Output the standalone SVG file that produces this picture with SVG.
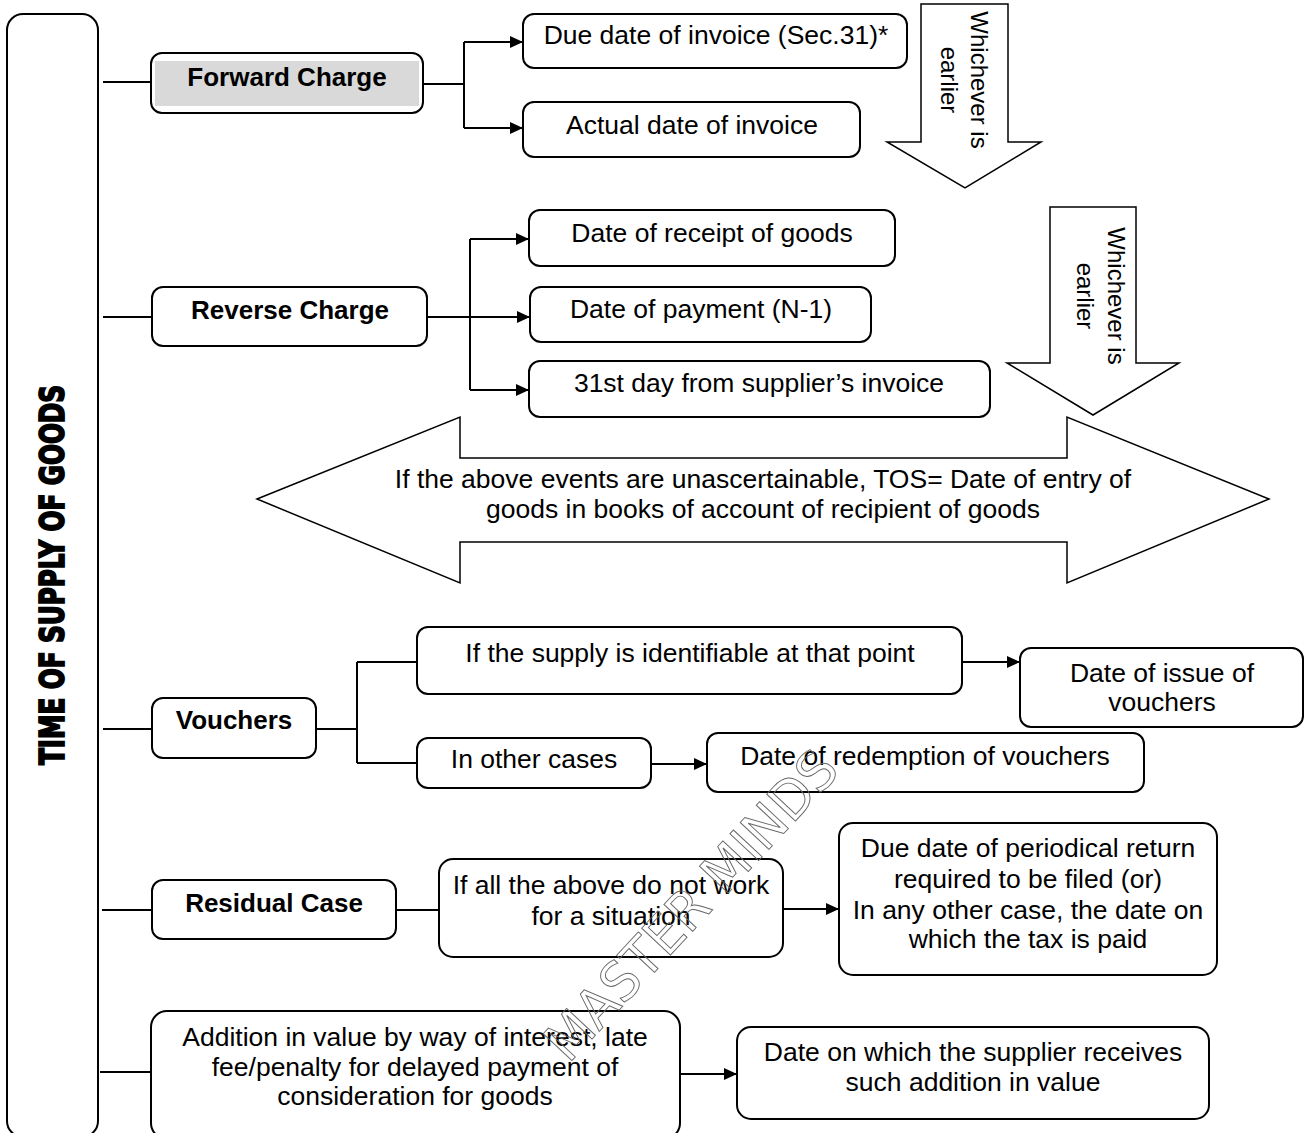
<svg xmlns="http://www.w3.org/2000/svg" width="1309" height="1133" viewBox="0 0 1309 1133">
<style>
.box{fill:#fff;stroke:#000;stroke-width:2}
.shape{fill:#fff;stroke:#000;stroke-width:1.5}
.ln{fill:none;stroke:#000;stroke-width:2}
.t{font-family:"Liberation Sans",Arial,sans-serif;font-size:26.5px;text-anchor:middle;fill:#000}
.b{font-weight:bold;font-size:26px}
.r{font-size:24px}
.title{font-family:"Liberation Sans Narrow","DejaVu Sans Condensed","Liberation Sans",sans-serif;font-weight:bold;font-size:34px;text-anchor:middle;fill:#000;stroke:#000;stroke-width:1.8}
.wm{font-family:"Liberation Sans Narrow","DejaVu Sans Condensed","Liberation Sans",sans-serif;font-size:54px;text-anchor:middle;fill:none;stroke:#666;stroke-width:0.9}
</style>
<defs>
<marker id="ah" markerUnits="userSpaceOnUse" markerWidth="13" markerHeight="12" refX="13" refY="6" orient="auto">
<path d="M0,0 L13,6 L0,12 z" fill="#000"/>
</marker>
</defs>

<g id="connectors">
<line class="ln" x1="103" y1="82" x2="151" y2="82"/>
<line class="ln" x1="423" y1="84" x2="464" y2="84"/>
<line class="ln" x1="464" y1="42" x2="464" y2="128"/>
<line class="ln" x1="464" y1="42" x2="523" y2="42" marker-end="url(#ah)"/>
<line class="ln" x1="464" y1="128" x2="523" y2="128" marker-end="url(#ah)"/>

<line class="ln" x1="103" y1="317" x2="152" y2="317"/>
<line class="ln" x1="427" y1="317" x2="470" y2="317"/>
<line class="ln" x1="470" y1="239" x2="470" y2="390"/>
<line class="ln" x1="470" y1="239" x2="529" y2="239" marker-end="url(#ah)"/>
<line class="ln" x1="470" y1="317" x2="530" y2="317" marker-end="url(#ah)"/>
<line class="ln" x1="470" y1="390" x2="529" y2="390" marker-end="url(#ah)"/>

<line class="ln" x1="103" y1="729" x2="152" y2="729"/>
<line class="ln" x1="316" y1="729" x2="357" y2="729"/>
<line class="ln" x1="357" y1="662" x2="357" y2="763"/>
<line class="ln" x1="357" y1="662" x2="417" y2="662"/>
<line class="ln" x1="357" y1="763" x2="417" y2="763"/>
<line class="ln" x1="962" y1="662" x2="1020" y2="662" marker-end="url(#ah)"/>
<line class="ln" x1="651" y1="764" x2="707" y2="764" marker-end="url(#ah)"/>

<line class="ln" x1="102" y1="910" x2="152" y2="910"/>
<line class="ln" x1="396" y1="910" x2="439" y2="910"/>
<line class="ln" x1="783" y1="909" x2="839" y2="909" marker-end="url(#ah)"/>

<line class="ln" x1="100" y1="1072" x2="151" y2="1072"/>
<line class="ln" x1="680" y1="1074" x2="737" y2="1074" marker-end="url(#ah)"/>
</g>

<g id="title">
<rect class="box" x="7" y="14" width="91" height="1123" rx="16"/>
<text class="title" transform="translate(64,575) rotate(-90)" textLength="380" lengthAdjust="spacingAndGlyphs">TIME OF SUPPLY OF GOODS</text>
</g>

<g id="forward">
<rect class="box" x="151" y="53" width="272" height="60" rx="11"/>
<rect x="155" y="61" width="264" height="45" fill="#d9d9d9"/>
<text class="t b" x="287" y="86">Forward Charge</text>
</g>
<g id="due-date">
<rect class="box" x="523" y="14" width="384" height="54" rx="11"/>
<text class="t" x="716" y="44">Due date of invoice (Sec.31)*</text>
</g>
<g id="actual-date">
<rect class="box" x="523" y="102" width="337" height="55" rx="11"/>
<text class="t" x="692" y="134">Actual date of invoice</text>
</g>
<g id="whichever-1">
<polygon class="shape" points="921,4 1008,4 1008,142 1041,142 965,188 887,142 921,142"/>
<text class="t r" transform="translate(971,80) rotate(90)">Whichever is</text>
<text class="t r" transform="translate(941,80) rotate(90)">earlier</text>
</g>

<g id="reverse">
<rect class="box" x="152" y="287" width="275" height="59" rx="11"/>
<text class="t b" x="290" y="319">Reverse Charge</text>
</g>
<g id="receipt">
<rect class="box" x="529" y="210" width="366" height="56" rx="11"/>
<text class="t" x="712" y="242">Date of receipt of goods</text>
</g>
<g id="payment">
<rect class="box" x="530" y="287" width="341" height="55" rx="11"/>
<text class="t" x="701" y="318">Date of payment (N-1)</text>
</g>
<g id="day31">
<rect class="box" x="529" y="361" width="461" height="56" rx="11"/>
<text class="t" x="759" y="392">31st day from supplier’s invoice</text>
</g>
<g id="whichever-2">
<polygon class="shape" points="1050,207 1136,207 1136,363 1179,363 1093,415 1007,363 1050,363"/>
<text class="t r" transform="translate(1108,296) rotate(90)">Whichever is</text>
<text class="t r" transform="translate(1077,296) rotate(90)">earlier</text>
</g>

<g id="unascertainable">
<polygon class="shape" points="257,499 460,417 460,458 1067,458 1067,417 1269,499 1067,583 1067,542 460,542 460,583"/>
<text class="t" x="763" y="488">If the above events are unascertainable, TOS= Date of entry of</text>
<text class="t" x="763" y="518">goods in books of account of recipient of goods</text>
</g>

<g id="vouchers">
<rect class="box" x="152" y="698" width="164" height="60" rx="11"/>
<text class="t b" x="234" y="729">Vouchers</text>
</g>
<g id="identifiable">
<rect class="box" x="417" y="627" width="545" height="67" rx="11"/>
<text class="t" x="690" y="662">If the supply is identifiable at that point</text>
</g>
<g id="issue">
<rect class="box" x="1020" y="648" width="283" height="79" rx="11"/>
<text class="t" x="1162" y="682">Date of issue of</text>
<text class="t" x="1162" y="711">vouchers</text>
</g>
<g id="other-cases">
<rect class="box" x="417" y="738" width="234" height="50" rx="11"/>
<text class="t" x="534" y="768">In other cases</text>
</g>
<g id="redemption">
<rect class="box" x="707" y="733" width="437" height="59" rx="11"/>
<text class="t" x="925" y="765">Date of redemption of vouchers</text>
</g>

<g id="residual">
<rect class="box" x="152" y="880" width="244" height="59" rx="11"/>
<text class="t b" x="274" y="912">Residual Case</text>
</g>
<g id="not-work">
<rect class="box" x="439" y="859" width="344" height="98" rx="14"/>
<text class="t" x="611" y="894">If all the above do not work</text>
<text class="t" x="611" y="925">for a situation</text>
</g>
<g id="periodical">
<rect class="box" x="839" y="823" width="378" height="152" rx="14"/>
<text class="t" x="1028" y="857">Due date of periodical return</text>
<text class="t" x="1028" y="888">required to be filed (or)</text>
<text class="t" x="1028" y="919">In any other case, the date on</text>
<text class="t" x="1028" y="948">which the tax is paid</text>
</g>

<g id="addition">
<rect class="box" x="151" y="1011" width="529" height="128" rx="16"/>
<text class="t" x="415" y="1046">Addition in value by way of interest, late</text>
<text class="t" x="415" y="1076">fee/penalty for delayed payment of</text>
<text class="t" x="415" y="1105">consideration for goods</text>
</g>
<g id="receives">
<rect class="box" x="737" y="1027" width="472" height="92" rx="14"/>
<text class="t" x="973" y="1061">Date on which the supplier receives</text>
<text class="t" x="973" y="1091">such addition in value</text>
</g>

<g id="watermark">
<text class="wm" transform="translate(705,918) rotate(-47)" textLength="400" lengthAdjust="spacingAndGlyphs">MASTER MINDS</text>
</g>
</svg>
